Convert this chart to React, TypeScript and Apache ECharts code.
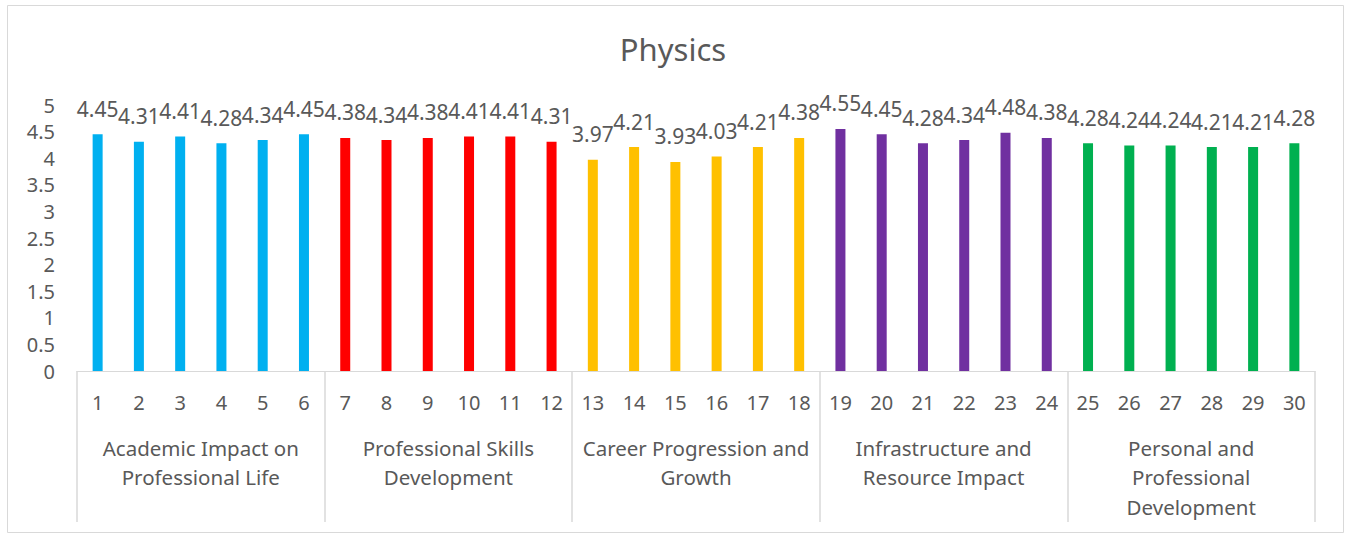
import React, { useEffect, useRef } from "react";
import * as echarts from "echarts";

const categories = Array.from({ length: 30 }, (_, i) => String(i + 1));
const values = [
  4.45, 4.31, 4.41, 4.28, 4.34, 4.45,
  4.38, 4.34, 4.38, 4.41, 4.41, 4.31,
  3.97, 4.21, 3.93, 4.03, 4.21, 4.38,
  4.55, 4.45, 4.28, 4.34, 4.48, 4.38,
  4.28, 4.24, 4.24, 4.21, 4.21, 4.28,
];
const groupNames = [
  "Academic Impact on\nProfessional Life",
  "Professional Skills\nDevelopment",
  "Career Progression and\nGrowth",
  "Infrastructure and\nResource Impact",
  "Personal and\nProfessional\nDevelopment",
];
const groupColors = ["#00B0F0", "#FF0000", "#FFC000", "#7030A0", "#00B050"];
const groupSize = 6;

const FONT = "Noto Sans";
const TEXT = "#595959";
const LINE = "#D9D9D9";

export default function App() {
  const ref = useRef<HTMLDivElement>(null);
  useEffect(() => {
    if (!ref.current) return;
    const chart = echarts.init(ref.current, null, { renderer: "svg" });
    chart.setOption({
      animation: false,
      backgroundColor: "#fff",
      textStyle: { fontFamily: FONT },
      title: {
        text: "Physics",
        left: "center",
        top: 28,
        textStyle: { fontFamily: FONT, fontSize: 31, fontWeight: "normal", color: TEXT },
      },
      graphic: [
        {
          type: "rect",
          shape: { x: 7.5, y: 5.5, width: 1336, height: 527 },
          style: { fill: "none", stroke: LINE, lineWidth: 1 },
          silent: true,
        },
      ],
      grid: { left: 77, right: 31, top: 105, bottom: 164, containLabel: false },
      xAxis: [
        {
          type: "category",
          data: categories,
          position: "bottom",
          axisLine: { show: true, lineStyle: { color: LINE, width: 1 } },
          axisTick: { show: false },
          axisLabel: { color: TEXT, fontSize: 20, fontFamily: FONT, margin: 21, interval: 0 },
        },
        {
          type: "category",
          data: groupNames,
          position: "bottom",
          axisLine: { show: false, onZero: false },
          axisTick: { show: true, length: 151, lineStyle: { color: LINE, width: 1.5 } },
          axisLabel: {
            color: TEXT,
            fontSize: 20.5,
            fontFamily: FONT,
            margin: 62,
            lineHeight: 29.5,
            interval: 0,
          },
        },
      ],
      yAxis: {
        type: "value",
        min: 0,
        max: 5,
        interval: 0.5,
        axisLine: { show: false },
        axisTick: { show: false },
        splitLine: { show: false },
        axisLabel: { color: TEXT, fontSize: 20, fontFamily: FONT, margin: 22 },
      },
      series: [
        {
          type: "bar",
          xAxisIndex: 0,
          data: values,
          barWidth: 10,
          itemStyle: {
            color: (p: any) => groupColors[Math.floor(p.dataIndex / groupSize)],
          },
          label: {
            show: true,
            position: "top",
            distance: 15,
            color: TEXT,
            fontSize: 21,
            fontFamily: FONT,
          },
        },
      ],
    });
    return () => chart.dispose();
  }, []);
  return (
    <div
      ref={ref}
      style={{ position: "fixed", left: 0, top: 0, width: 1346, height: 535 }}
    />
  );
}
